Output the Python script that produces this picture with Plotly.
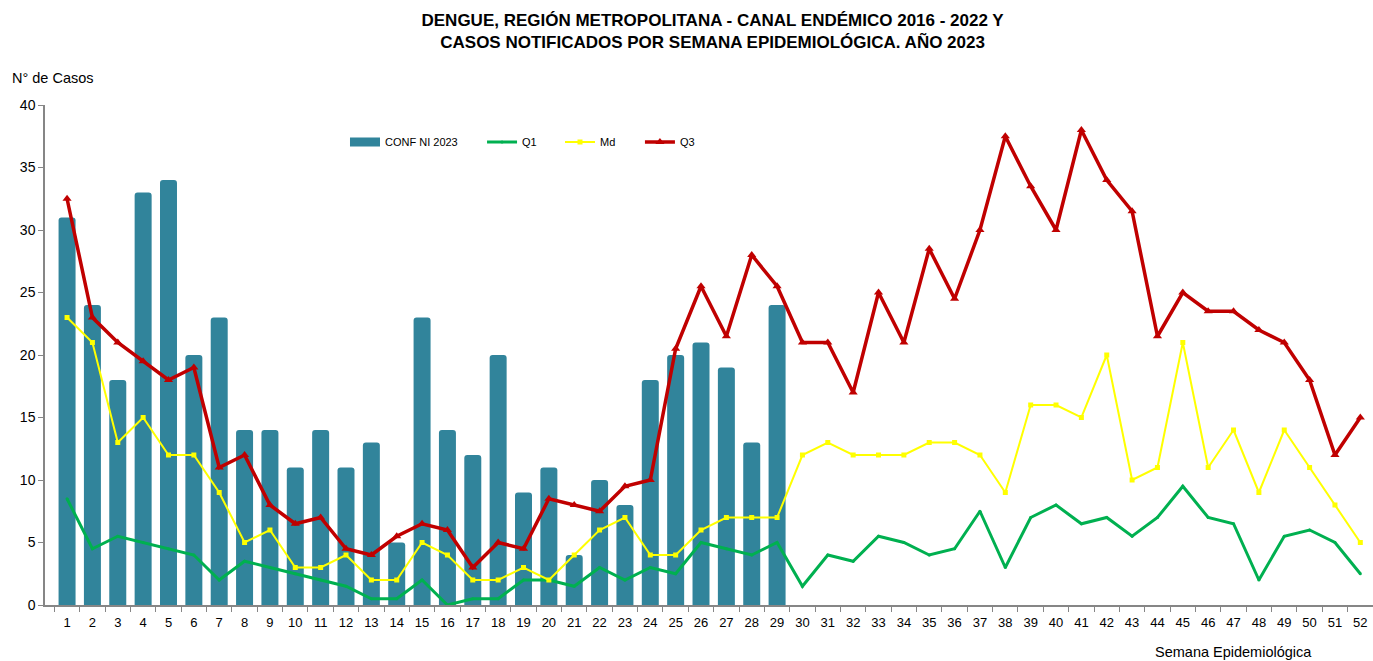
import plotly.graph_objects as go

# Semanas epidemiologicas
weeks = list(range(1, 53))

# Casos confirmados 2023 (hasta semana 29)
conf_2023 = [31, 24, 18, 33, 34, 20, 23, 14, 14, 11, 14, 11, 13, 5, 23, 14, 12, 20, 9,
             11, 4, 10, 8, 18, 20, 21, 19, 13, 24]

# Canal endemico 2016 - 2022
q1 = [8.5, 4.5, 5.5, 5, 4.5, 4, 2, 3.5, 3, 2.5, 2, 1.5, 0.5, 0.5, 2, 0, 0.5, 0.5, 2, 2,
      1.5, 3, 2, 3, 2.5, 5, 4.5, 4, 5, 1.5, 4, 3.5, 5.5, 5, 4, 4.5, 7.5, 3, 7, 8,
      6.5, 7, 5.5, 7, 9.5, 7, 6.5, 2, 5.5, 6, 5, 2.5]
md = [23, 21, 13, 15, 12, 12, 9, 5, 6, 3, 3, 4, 2, 2, 5, 4, 2, 2, 3, 2,
      4, 6, 7, 4, 4, 6, 7, 7, 7, 12, 13, 12, 12, 12, 13, 13, 12, 9, 16, 16,
      15, 20, 10, 11, 21, 11, 14, 9, 14, 11, 8, 5]
q3 = [32.5, 23, 21, 19.5, 18, 19, 11, 12, 8, 6.5, 7, 4.5, 4, 5.5, 6.5, 6, 3, 5, 4.5, 8.5,
      8, 7.5, 9.5, 10, 20.5, 25.5, 21.5, 28, 25.5, 21, 21, 17, 25, 21, 28.5, 24.5, 30, 37.5, 33.5, 30,
      38, 34, 31.5, 21.5, 25, 23.5, 23.5, 22, 21, 18, 12, 15]

FONT = "Liberation Sans"
BAR_COLOR = "#31849B"

fig = go.Figure()

fig.add_trace(go.Bar(
    x=weeks[:len(conf_2023)],
    y=conf_2023,
    name="CONF NI 2023",
    width=0.67,
    showlegend=False,
    marker=dict(color=BAR_COLOR, line=dict(width=0), cornerradius=3),
))
# wide rectangle legend key for the bars (Excel style)
fig.add_trace(go.Scatter(
    x=[None], y=[None], mode="lines", name="CONF NI 2023",
    line=dict(color=BAR_COLOR, width=9), legend="legend",
))
fig.add_trace(go.Scatter(
    x=weeks, y=q1, name="Q1", mode="lines+markers", legend="legend2",
    line=dict(color="#00B050", width=3),
    marker=dict(size=3, color="#00B050"),
))
fig.add_trace(go.Scatter(
    x=weeks, y=md, name="Md", mode="lines+markers", legend="legend3",
    line=dict(color="#FFFF00", width=2),
    marker=dict(size=5, symbol="square", color="#FFFF00"),
))
fig.add_trace(go.Scatter(
    x=weeks, y=q3, name="Q3", mode="lines+markers", legend="legend4",
    line=dict(color="#C00000", width=3.5),
    marker=dict(size=8, symbol="triangle-up", color="#C00000"),
))


def legend_at(x):
    return dict(orientation="h", x=x, xanchor="left", y=0.926, yanchor="middle",
                font=dict(size=11, family=FONT), bgcolor="rgba(0,0,0,0)")


fig.update_layout(
    width=1373, height=661,
    margin=dict(l=45, r=0, t=105, b=56),
    paper_bgcolor="white", plot_bgcolor="white",
    font=dict(family=FONT, color="black"),
    title=dict(
        text="<b>DENGUE, REGIÓN METROPOLITANA - CANAL ENDÉMICO 2016 - 2022 Y<br>"
             "CASOS NOTIFICADOS POR SEMANA EPIDEMIOLÓGICA. AÑO 2023</b>",
        x=0.519, xanchor="center", y=0.961, yanchor="middle",
        font=dict(size=17, family=FONT),
    ),
    showlegend=True,
    legend=legend_at(0.2259),
    legend2=legend_at(0.3291),
    legend3=legend_at(0.3878),
    legend4=legend_at(0.4480),
    xaxis=dict(
        range=[0.13, 52.5],
        tickmode="array", tickvals=weeks, ticktext=[str(w) for w in weeks],
        ticks="", showline=True, linecolor="#868686", linewidth=1.5,
        showgrid=False, zeroline=False, ticklabelstandoff=5,
        tickfont=dict(size=13, family=FONT),
        minor=dict(tick0=0.5, dtick=1, ticks="outside", ticklen=5,
                   tickcolor="#868686", showgrid=False),
    ),
    yaxis=dict(
        range=[0, 40], dtick=5, ticks="outside", ticklen=5, tickcolor="#868686",
        showline=True, linecolor="#868686", linewidth=1.5,
        showgrid=False, zeroline=False,
        tickfont=dict(size=14, family=FONT),
    ),
    annotations=[
        dict(text="N° de Casos", xref="paper", yref="paper", x=-0.0264, y=1.054,
             xanchor="left", yanchor="middle", showarrow=False,
             font=dict(size=14.5, family=FONT)),
        dict(text="Semana Epidemiológica", xref="paper", yref="paper", x=0.8946, y=-0.094,
             xanchor="center", yanchor="middle", showarrow=False,
             font=dict(size=14.5, family=FONT)),
    ],
)

fig.write_html("out.html", config={"displayModeBar": False},
               post_script="document.body.style.margin='0';")
